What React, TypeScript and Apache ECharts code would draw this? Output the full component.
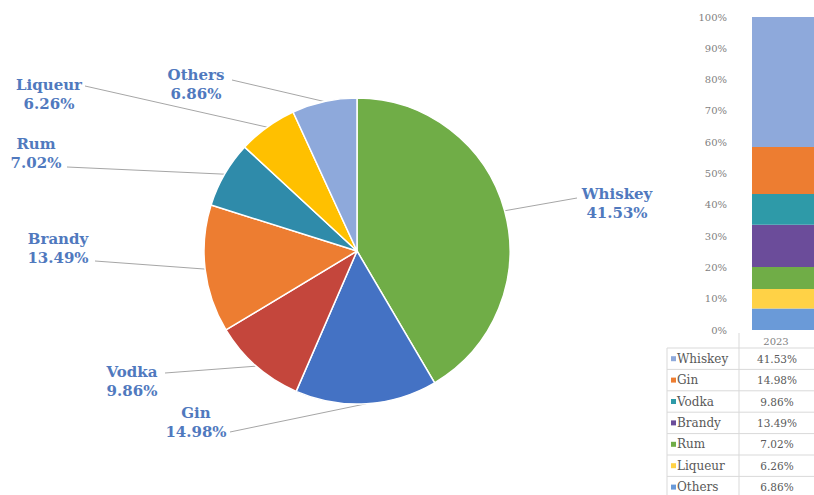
import React, { useEffect, useRef } from 'react';
import * as echarts from 'echarts';

// ---- data ----
const categories = ['Whiskey', 'Gin', 'Vodka', 'Brandy', 'Rum', 'Liqueur', 'Others'];
const shares = [41.53, 14.98, 9.86, 13.49, 7.02, 6.26, 6.86];
const years = ['2023'];

// ---- styles ----
const pieColors = ['#70AD47', '#4472C4', '#C4463C', '#ED7D31', '#2F8BAA', '#FFC000', '#8EA9DB'];
const barColors = ['#8EA9DB', '#ED7D31', '#2E9AA8', '#6B4C9A', '#70AD47', '#FFD246', '#6A9AD8'];

// pie label layout: [centerX, centerY, lineEndX, lineEndY]
const pieLabelPos: number[][] = [
  [617, 203, 577, 198],
  [196, 422, 230, 432],
  [132, 381, 165, 373],
  [58, 248, 95, 261],
  [36, 153, 67, 167],
  [49, 94, 85, 86],
  [196, 84, 232, 80],
];

const SERIF = 'DejaVu Serif';

export default function App() {
  const ref = useRef<HTMLDivElement>(null);
  useEffect(() => {
    if (!ref.current) return;
    const chart = echarts.init(ref.current, undefined, { renderer: 'svg' });

    const rowTop = 348;
    const rowH = 21.4;
    const tableLeft = 667;
    const colSplit = 739;
    const tableRight = 814;
    const graphic: any[] = [];
    graphic.push({
      type: 'text',
      style: {
        text: years[0], x: 776, y: 341, align: 'center', verticalAlign: 'middle',
        fontFamily: SERIF, fontSize: 10, fill: '#7F7F7F',
      },
    });
    for (let k = 0; k <= categories.length; k++) {
      const y = rowTop + k * rowH;
      graphic.push({
        type: 'line', shape: { x1: tableLeft, y1: y, x2: tableRight, y2: y },
        style: { stroke: '#D9D9D9', lineWidth: 1 },
      });
    }
    graphic.push({
      type: 'line', shape: { x1: tableLeft, y1: rowTop, x2: tableLeft, y2: 495 },
      style: { stroke: '#D9D9D9', lineWidth: 1 },
    });
    graphic.push({
      type: 'line', shape: { x1: colSplit, y1: 333, x2: colSplit, y2: 495 },
      style: { stroke: '#D9D9D9', lineWidth: 1 },
    });
    categories.forEach((c, i) => {
      const yc = rowTop + rowH * (i + 0.5);
      graphic.push({
        type: 'rect', shape: { x: 671, y: yc - 2.5, width: 5, height: 5 },
        style: { fill: barColors[i] },
      });
      graphic.push({
        type: 'text',
        style: {
          text: c, x: 677, y: yc, align: 'left', verticalAlign: 'middle',
          fontFamily: SERIF, fontSize: 12, fill: '#595959',
        },
      });
      graphic.push({
        type: 'text',
        style: {
          text: shares[i].toFixed(2) + '%', x: 777, y: yc, align: 'center', verticalAlign: 'middle',
          fontFamily: SERIF, fontSize: 10.5, fill: '#595959',
        },
      });
    });

    const barOrder = categories.map((_, i) => i).reverse();

    chart.setOption({
      animation: false,
      backgroundColor: '#ffffff',
      grid: { left: 752, top: 17, width: 62, height: 313 },
      xAxis: {
        type: 'category', data: years,
        axisLabel: { show: false }, axisLine: { show: false }, axisTick: { show: false },
      },
      yAxis: {
        type: 'value', min: 0, max: 100, interval: 10,
        axisLabel: {
          formatter: '{value}%', fontFamily: SERIF, fontSize: 10, color: '#7F7F7F', margin: 25,
        },
        axisLine: { show: false }, axisTick: { show: false }, splitLine: { show: false },
      },
      series: [
        {
          type: 'pie',
          center: [357, 251],
          radius: 153,
          startAngle: 90,
          clockwise: true,
          avoidLabelOverlap: false,
          itemStyle: { borderColor: '#ffffff', borderWidth: 1.5 },
          data: categories.map((c, i) => ({
            name: c, value: shares[i], itemStyle: { color: pieColors[i] },
          })),
          label: {
            show: true,
            position: 'outside',
            formatter: (p: any) => `${p.name}\n${p.value.toFixed(2)}%`,
            fontFamily: SERIF,
            fontWeight: 'bold',
            fontSize: 15,
            lineHeight: 19,
            color: '#5079BE',
            align: 'center',
          },
          labelLine: {
            show: true, length: 5, length2: 5,
            lineStyle: { color: '#A6A6A6', width: 1 },
          },
          labelLayout: (params: any) => {
            const pos = pieLabelPos[params.dataIndex];
            const p0 = params.labelLinePoints ? params.labelLinePoints[0] : [pos[2], pos[3]];
            return {
              x: pos[0], y: pos[1], align: 'center', verticalAlign: 'middle',
              labelLinePoints: [p0, [pos[2], pos[3]]],
            };
          },
        },
        ...barOrder.map((i) => ({
          type: 'bar',
          name: categories[i],
          stack: 'share',
          barWidth: '100%',
          data: [shares[i]],
          itemStyle: { color: barColors[i] },
        })),
      ],
      graphic,
    });
    return () => chart.dispose();
  }, []);
  return (
    <div
      ref={ref}
      style={{ position: 'fixed', left: 0, top: 0, width: 814, height: 495 }}
    />
  );
}
